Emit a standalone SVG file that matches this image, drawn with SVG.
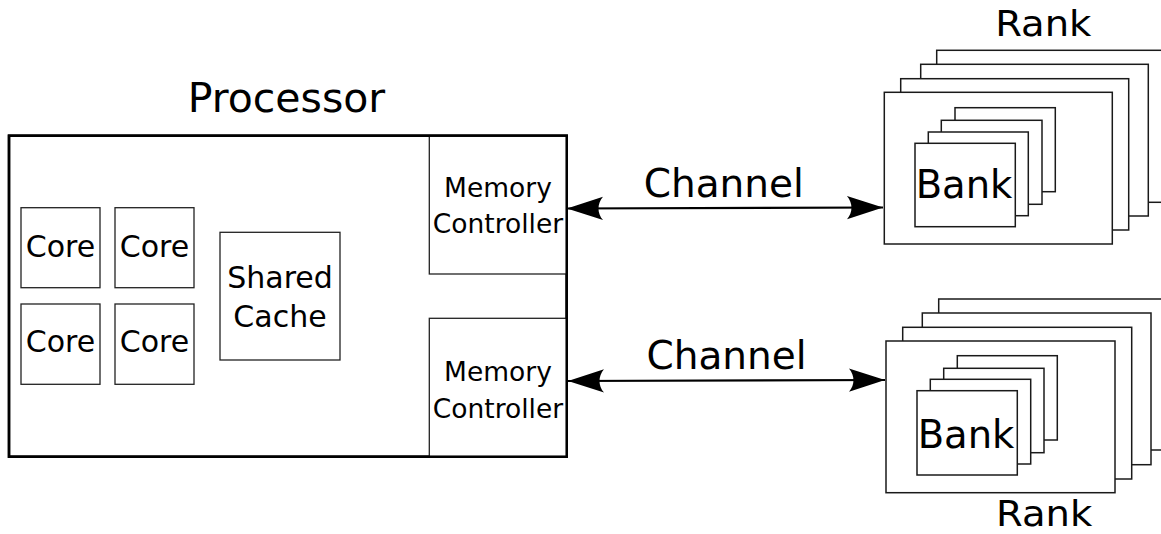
<svg xmlns="http://www.w3.org/2000/svg" width="1161" height="534" viewBox="0 0 1161 534">
  <defs>
    <style>
      text { font-family: "DejaVu Sans", "Noto Sans", sans-serif; fill: #000; text-anchor: middle; }
      .outer { fill: #fff; stroke: #000; stroke-width: 2.5; }
      .box { fill: #fff; stroke: #222; stroke-width: 1.3; }
      .sheet { fill: #fff; stroke: #1a1a1a; stroke-width: 1.5; }
      .link { fill: none; stroke: #000; stroke-width: 2.2; }
      .core { font-size: 30px; }
      .mc { font-size: 26.5px; }
      .big { font-size: 39px; }
    </style>
    <marker id="head" viewBox="-38 -13 40 26" refX="0" refY="0" markerWidth="40" markerHeight="26"
            markerUnits="userSpaceOnUse" orient="auto-start-reverse">
      <path d="M0,0 L-36,-11.7 C-30,-4.5 -30,4.5 -36,11.7 Z" fill="#000"/>
    </marker>
  </defs>

  <rect width="1161" height="534" fill="#fff"/>

  <!-- processor package -->
  <g id="processor">
    <text x="286.5" y="111.5" style="font-size:41px">Processor</text>
    <rect class="outer" x="9" y="135.7" width="557.7" height="321"/>
  </g>

  <g id="core1">
    <rect class="box" x="21" y="207.7" width="79" height="80"/>
    <text class="core" x="60.5" y="256.7">Core</text>
  </g>
  <g id="core2">
    <rect class="box" x="115" y="207.7" width="79" height="80"/>
    <text class="core" x="154.5" y="256.7">Core</text>
  </g>
  <g id="core3">
    <rect class="box" x="21" y="304" width="79" height="80.3"/>
    <text class="core" x="60.5" y="352.3">Core</text>
  </g>
  <g id="core4">
    <rect class="box" x="115" y="304" width="79" height="80.3"/>
    <text class="core" x="154.5" y="352.3">Core</text>
  </g>

  <g id="shared-cache">
    <rect class="box" x="220" y="232.3" width="120" height="127.7"/>
    <text class="core" x="280" y="287.7">Shared</text>
    <text class="core" x="280" y="326.7">Cache</text>
  </g>

  <g id="mc-top">
    <rect class="box" x="429.3" y="135.7" width="137.4" height="138.3"/>
    <text class="mc" x="498" y="196.7">Memory</text>
    <text class="mc" x="498" y="233.3">Controller</text>
  </g>
  <g id="mc-bottom">
    <rect class="box" x="429.3" y="318.3" width="137.4" height="138.4"/>
    <text class="mc" x="498" y="381">Memory</text>
    <text class="mc" x="498" y="417.7">Controller</text>
  </g>
  <!-- redraw package edge over the controller boxes -->
  <rect x="9" y="135.7" width="557.7" height="321" fill="none" stroke="#000" stroke-width="2.5"/>

  <!-- upper DIMM: stacked ranks, front rank holds stacked banks -->
  <g id="rank-top">
    <text x="1043.3" y="36" style="font-size:35px" transform="translate(1043.3 0) scale(1.1 1) translate(-1043.3 0)">Rank</text>
    <rect class="sheet" x="936.7" y="50.3" width="240" height="152"/>
    <rect class="sheet" x="920.7" y="64.3" width="227.6" height="151.7"/>
    <rect class="sheet" x="900.7" y="78.7" width="228" height="151.3"/>
    <rect class="sheet" x="884.3" y="92.3" width="228" height="151.7"/>
    <rect class="sheet" x="955" y="107.7" width="100.3" height="84"/>
    <rect class="sheet" x="941.3" y="120.3" width="100.7" height="84"/>
    <rect class="sheet" x="928.3" y="132" width="100" height="83.7"/>
    <rect class="sheet" x="915" y="143.3" width="100.3" height="83.4"/>
    <text class="big" x="964" y="198.3" style="font-size:38.5px">Bank</text>
  </g>

  <!-- lower DIMM -->
  <g id="rank-bottom">
    <rect class="sheet" x="938.7" y="299" width="240" height="151"/>
    <rect class="sheet" x="922.3" y="313" width="228.7" height="151.7"/>
    <rect class="sheet" x="902.7" y="327.3" width="229" height="151.7"/>
    <rect class="sheet" x="886" y="341" width="229" height="151.7"/>
    <rect class="sheet" x="957.3" y="355.7" width="100" height="84.3"/>
    <rect class="sheet" x="943.7" y="368.3" width="100.3" height="84.4"/>
    <rect class="sheet" x="930.3" y="379.3" width="100.4" height="84.7"/>
    <rect class="sheet" x="917" y="390.7" width="100.3" height="84.3"/>
    <text class="big" x="966" y="448.3" style="font-size:38.5px">Bank</text>
    <text x="1044.2" y="526" style="font-size:35px" transform="translate(1044.2 0) scale(1.1 1) translate(-1044.2 0)">Rank</text>
  </g>

  <!-- memory channels -->
  <g id="connectors">
    <line class="link" x1="567" y1="208.5" x2="883" y2="207.5" marker-start="url(#head)" marker-end="url(#head)"/>
    <text class="big" x="723.8" y="197.3">Channel</text>
    <line class="link" x1="568" y1="381" x2="885" y2="380" marker-start="url(#head)" marker-end="url(#head)"/>
    <text class="big" x="726.5" y="369.3">Channel</text>
  </g>
</svg>
